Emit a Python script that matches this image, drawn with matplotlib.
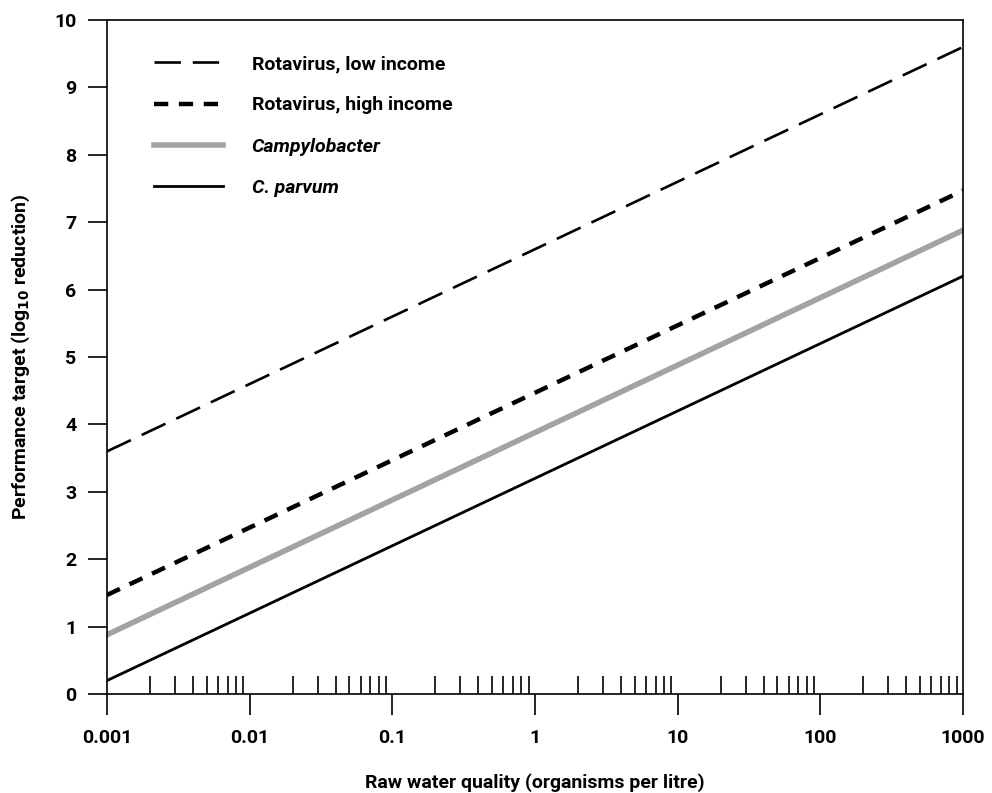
import numpy as np
import matplotlib
matplotlib.use("Agg")
import matplotlib.pyplot as plt
from matplotlib.ticker import LogLocator, FixedLocator, NullFormatter

plt.rcParams['font.family'] = ['Roboto', 'DejaVu Sans']
plt.rcParams['font.weight'] = 'bold'
plt.rcParams['axes.labelweight'] = 'bold'

# raw water quality end points (organisms per litre)
x_ends = [0.001, 1000]

# performance target (log10 reduction) at the two ends
rota_low = [3.6, 9.6]
rota_high = [1.47, 7.47]
campylobacter = [0.88, 6.88]
c_parvum = [0.2, 6.2]

x_ticks = [0.001, 0.01, 0.1, 1, 10, 100, 1000]
x_tick_labels = ['0.001', '0.01', '0.1', '1', '10', '100', '1000']
y_ticks = list(range(0, 11))

fig = plt.figure(figsize=(9.92, 7.93), dpi=100)
ax = fig.add_axes([0.1079, 0.1248, 0.8629, 0.85])

ax.plot(x_ends, rota_low, color='black', lw=1.9, linestyle=(0, (10, 4.5)),
        label='Rotavirus, low income', dash_capstyle='butt')
ax.plot(x_ends, rota_high, color='black', lw=3.2, linestyle=(0, (3.2, 2.4)),
        label='Rotavirus, high income', dash_capstyle='butt')
ax.plot(x_ends, campylobacter, color='#a3a3a3', lw=4.0, label='Campylobacter')
ax.plot(x_ends, c_parvum, color='black', lw=2.0, label='C. parvum')

ax.set_xscale('log')
ax.set_xlim(0.001, 1000)
ax.set_ylim(0, 10)

ax.xaxis.set_major_locator(FixedLocator(x_ticks))
ax.set_xticklabels(x_tick_labels)
ax.xaxis.set_minor_locator(LogLocator(base=10, subs=np.arange(2, 10)))
ax.xaxis.set_minor_formatter(NullFormatter())
ax.set_yticks(y_ticks)

ax.tick_params(axis='x', which='major', direction='out', length=15, width=1.2,
               labelsize=14, pad=10)
ax.tick_params(axis='x', which='minor', direction='in', length=13, width=1.2)
ax.tick_params(axis='y', which='major', direction='out', length=14, width=1.2,
               labelsize=14, pad=8)
ax.tick_params(axis='y', which='minor', left=False)

for s in ax.spines.values():
    s.set_linewidth(1.2)

ax.set_xlabel('Raw water quality (organisms per litre)', fontsize=14, labelpad=19)
ax.set_ylabel('Performance target (log$_{10}$ reduction)', fontsize=14, labelpad=16)

leg = ax.legend(loc='upper left', bbox_to_anchor=(0.035, 0.974), frameon=False,
                fontsize=14, handlelength=3.5, handletextpad=1.5, labelspacing=1.2)
for t in leg.get_texts()[2:]:
    t.set_style('italic')

fig.savefig('out.png', dpi=100)
